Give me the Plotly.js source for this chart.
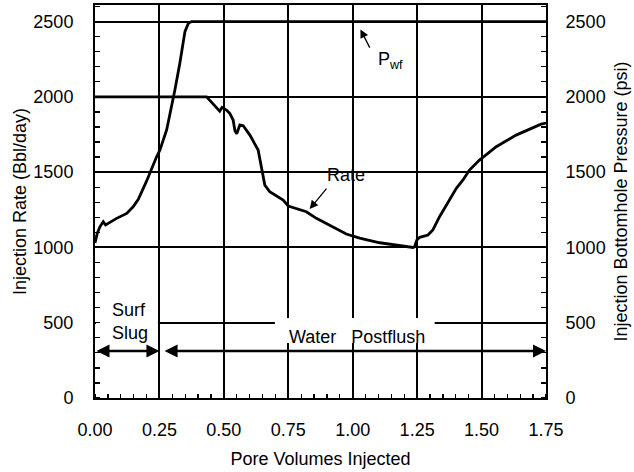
<!DOCTYPE html>
<html>
<head>
<meta charset="utf-8">
<script src="https://cdn.plot.ly/plotly-3.0.1.min.js"></script>
<style>html,body{margin:0;padding:0;background:#fff;}</style>
</head>
<body>
<div id="chart" style="width:634px;height:472px;"></div>
<script>
// Bottomhole pressure (psi, right axis)
const pwfX = [0, 0.009, 0.019, 0.032, 0.041, 0.052, 0.084, 0.123, 0.148, 0.168, 0.2, 0.239, 0.252, 0.278, 0.297, 0.31, 0.329, 0.349, 0.362, 0.375, 1.75];
const pwfY = [1030, 1095, 1137, 1171, 1149, 1160, 1193, 1226, 1270, 1320, 1440, 1602, 1647, 1780, 1934, 2045, 2222, 2433, 2488, 2500, 2500];
// Injection rate (Bbl/day, left axis)
const rateX = [0, 0.433, 0.484, 0.493, 0.51, 0.523, 0.536, 0.543, 0.55, 0.562, 0.575, 0.601, 0.633, 0.646, 0.659, 0.678, 0.73, 0.75, 0.82, 0.859, 0.975, 1.027, 1.105, 1.234, 1.24, 1.249, 1.26, 1.292, 1.311, 1.337, 1.37, 1.402, 1.428, 1.453, 1.492, 1.557, 1.634, 1.731, 1.75];
const rateY = [2000, 2000, 1905, 1930, 1912, 1890, 1846, 1775, 1755, 1813, 1808, 1746, 1647, 1536, 1414, 1370, 1315, 1275, 1237, 1193, 1089, 1062, 1031, 1000, 1005, 1049, 1067, 1082, 1116, 1204, 1304, 1392, 1448, 1514, 1580, 1669, 1746, 1819, 1825];
// Tick labels
const xTickVals = [0, 0.25, 0.5, 0.75, 1.0, 1.25, 1.5, 1.75];
const xTickText = ['0.00', '0.25', '0.50', '0.75', '1.00', '1.25', '1.50', '1.75'];
const yTickVals = [0, 500, 1000, 1500, 2000, 2500];
const yTickText = ['0', '500', '1000', '1500', '2000', '2500'];
// Stage intervals (pore volumes) and label level
const slugStart = 0, slugEnd = 0.25, flushStart = 0.264, flushEnd = 1.75, stageArrowY = 312;

const FONT = 'Liberation Sans, Arial, Helvetica, sans-serif';
const fs = 18;

const traces = [
  {x: pwfX, y: pwfY, yaxis: 'y2', mode: 'lines', line: {color: '#000', width: 2.8}, hoverinfo: 'skip', showlegend: false},
  {x: rateX, y: rateY, yaxis: 'y', mode: 'lines', line: {color: '#000', width: 2.8}, hoverinfo: 'skip', showlegend: false}
];

const yCommon = {
  range: [0, 2610], tickvals: yTickVals, ticktext: yTickText,
  ticks: '', showgrid: true, gridcolor: '#000', gridwidth: 2, zeroline: false,
  showline: true, linecolor: '#000', linewidth: 2,
  tickfont: {family: FONT, size: fs, color: '#000'},
  minor: {dtick: 100, tick0: 0, ticks: 'inside', ticklen: 5, tickwidth: 1.3, tickcolor: '#000', showgrid: false}
};

const layout = {
  width: 634, height: 472,
  margin: {l: 95, r: 88, t: 5, b: 74},
  paper_bgcolor: '#fff', plot_bgcolor: '#fff',
  font: {family: FONT, size: fs, color: '#000'},
  showlegend: false,
  xaxis: {
    range: [0, 1.75], tickvals: xTickVals, ticktext: xTickText,
    ticks: '', showgrid: true, gridcolor: '#000', gridwidth: 2, zeroline: false,
    showline: true, mirror: true, linecolor: '#000', linewidth: 2,
    tickfont: {family: FONT, size: fs, color: '#000'},
    ticklabelstandoff: 14,
    minor: {dtick: 0.05, tick0: 0, ticks: 'inside', ticklen: 4, tickwidth: 1.3, tickcolor: '#000', showgrid: false},
    title: {text: 'Pore Volumes Injected', font: {family: FONT, size: fs, color: '#000'}, standoff: 14}
  },
  yaxis: Object.assign({}, yCommon, {
    side: 'left', ticklabelstandoff: 16,
    title: {text: 'Injection Rate (Bbl/day)', font: {family: FONT, size: fs, color: '#000'}, standoff: 2}
  }),
  yaxis2: Object.assign({}, yCommon, {
    overlaying: 'y', side: 'right', showgrid: false, ticklabelstandoff: 14,
    title: {text: 'Injection Bottomhole Pressure (psi)', font: {family: FONT, size: fs, color: '#000'}, standoff: 10}
  }),
  shapes: [
    {type: 'rect', xref: 'x', yref: 'y', x0: 0.004, x1: 0.244, y0: 365, y1: 640, fillcolor: '#fff', line: {width: 0}, layer: 'between'},
    {type: 'rect', xref: 'x', yref: 'y', x0: 0.698, x1: 1.318, y0: 365, y1: 531, fillcolor: '#fff', line: {width: 0}, layer: 'between'}
  ],
  annotations: [
    // Surf slug double arrow
    {x: slugEnd, y: stageArrowY, ax: slugStart, ay: stageArrowY, xref: 'x', yref: 'y', axref: 'x', ayref: 'y',
     text: '', showarrow: true, arrowside: 'end+start', arrowhead: 2, startarrowhead: 2,
     arrowsize: 1.0, startarrowsize: 1.0, arrowwidth: 2.6, arrowcolor: '#000'},
    // Water postflush double arrow
    {x: flushEnd, y: stageArrowY, ax: flushStart, ay: stageArrowY, xref: 'x', yref: 'y', axref: 'x', ayref: 'y',
     text: '', showarrow: true, arrowside: 'end+start', arrowhead: 2, startarrowhead: 2,
     arrowsize: 1.0, startarrowsize: 1.0, arrowwidth: 2.6, arrowcolor: '#000'},
    {x: 0.06, y: 505, xref: 'x', yref: 'y', text: 'Surf<br>Slug', showarrow: false, align: 'left', xanchor: 'left',
     font: {family: FONT, size: fs, color: '#000'}},
    {x: 1.016, y: 405, xref: 'x', yref: 'y', text: 'Water\u00a0\u00a0 Postflush', showarrow: false,
     font: {family: FONT, size: fs, color: '#000'}},
    // Rate label
    {x: 0.833, y: 1255, ax: 0.903, ay: 1401, xref: 'x', yref: 'y', axref: 'x', ayref: 'y',
     text: '', showarrow: true, arrowhead: 2, arrowsize: 1.3, arrowwidth: 1.3, arrowcolor: '#000'},
    {x: 0.973, y: 1481, xref: 'x', yref: 'y', text: 'Rate', showarrow: false,
     font: {family: FONT, size: fs, color: '#000'}},
    // Pwf label
    {x: 1.03, y: 2448, ax: 1.069, ay: 2317, xref: 'x', yref: 'y', axref: 'x', ayref: 'y',
     text: '', showarrow: true, arrowhead: 2, arrowsize: 1.3, arrowwidth: 1.3, arrowcolor: '#000'},
    {x: 1.089, y: 2244, xref: 'x', yref: 'y', text: 'P<sub>wf</sub>', showarrow: false, xanchor: 'left',
     font: {family: FONT, size: fs, color: '#000'}}
  ]
};

Plotly.newPlot('chart', traces, layout, {displayModeBar: false, staticPlot: true});
</script>
</body>
</html>
